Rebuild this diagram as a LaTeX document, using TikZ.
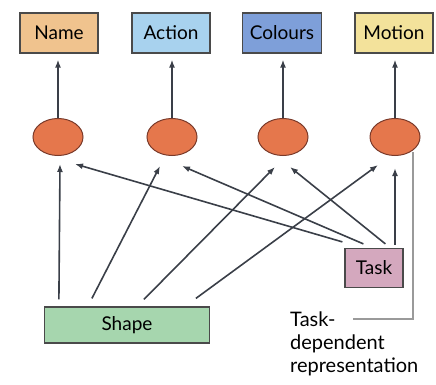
\documentclass[tikz,border=0pt]{standalone}
\usepackage{fontspec}
\setmainfont{Lato}
\usetikzlibrary{arrows.meta, calc, shapes.geometric}
\definecolor{namefill}{HTML}{F0C38E}
\definecolor{actionfill}{HTML}{A8D2EE}
\definecolor{coloursfill}{HTML}{7E9FD9}
\definecolor{motionfill}{HTML}{F3E29B}
\definecolor{shapefill}{HTML}{A6D6AE}
\definecolor{taskfill}{HTML}{D4A8BE}
\definecolor{unitfill}{HTML}{E5774C}
\definecolor{unitline}{HTML}{7A3A2A}
\definecolor{boxline}{HTML}{4A4A4A}
\definecolor{linkcol}{HTML}{3A3F48}
\definecolor{bracketcol}{HTML}{9A9A9A}
\begin{document}
\begin{tikzpicture}[x=1pt, y=-1pt, >={Latex[length=8pt,width=6pt]},
  catbox/.style={draw=boxline, line width=1.2pt, minimum height=40pt,
    inner sep=1pt, font=\fontsize{19}{21}\selectfont},
  unit/.style={ellipse, draw=unitline, line width=1pt, fill=unitfill,
    minimum width=50pt, minimum height=37pt, inner sep=0pt},
  link/.style={->, draw=linkcol, line width=1.6pt}]
\useasboundingbox (0,0) rectangle (436,385);
% Ausgabekategorien oben
\node[catbox, fill=namefill, minimum width=78pt] (name) at (59,33) {Name};
\node[catbox, fill=actionfill, minimum width=78pt] (action) at (171,33) {Action};
\node[catbox, fill=coloursfill, minimum width=79pt] (colours) at (282,33) {Colours};
\node[catbox, fill=motionfill, minimum width=78pt] (motion) at (394,33) {Motion};
% Einheiten in der Mitte
\node[unit] (c1) at (58,137) {};
\node[unit] (c2) at (172,137) {};
\node[unit] (c3) at (283,137) {};
\node[unit] (c4) at (395,137) {};
% Eingaben unten
\node[catbox, fill=shapefill, minimum width=165pt, minimum height=36pt] (shape) at (127,325) {Shape};
\node[catbox, fill=taskfill, minimum width=58pt, minimum height=39pt] (task) at (374,268) {Task};
% Pfeile von den Einheiten nach oben
\foreach \c/\b in {c1/name, c2/action, c3/colours, c4/motion}
  \draw[link, shorten >=6pt] (\c.north) -- (\c.north |- \b.south);
% Pfeile von Shape
\draw[link] ($(shape.north west)+(15,-7)$) -- ($(c1.south)+(2,8)$);
\draw[link] ($(shape.north west)+(48,-8)$) -- ($(c2.south)+(-12,10)$);
\draw[link] ($(shape.north west)+(100,-7)$) -- ($(c3.south)+(-8,11)$);
\draw[link] ($(shape.north west)+(152,-8)$) -- ($(c4.south)+(-17,9)$);
% Pfeile von Task
\draw[link] ($(task.north west)+(-2,-6)$) -- ($(c1.south)+(17,8)$);
\draw[link] ($(task.north west)+(19,-4)$) -- ($(c2.south)+(10,10)$);
\draw[link] ($(task.north west)+(41,-4)$) -- ($(c3.south)+(7,11)$);
\draw[link] ($(c4.south |- task.north)+(0,-3)$) -- ($(c4.south)+(0,12)$);
% Beschriftung rechts unten
\node[anchor=north west, align=left, inner sep=0pt,
  font=\fontsize{20}{23}\selectfont] (tdr) at (290,312) {Task-\\dependent\\representation};
\draw[bracketcol, line width=1.2pt] ($(c4.south)+(18,-4)$) |- ($(tdr.north west)+(63,7)$);
\end{tikzpicture}
\end{document}
